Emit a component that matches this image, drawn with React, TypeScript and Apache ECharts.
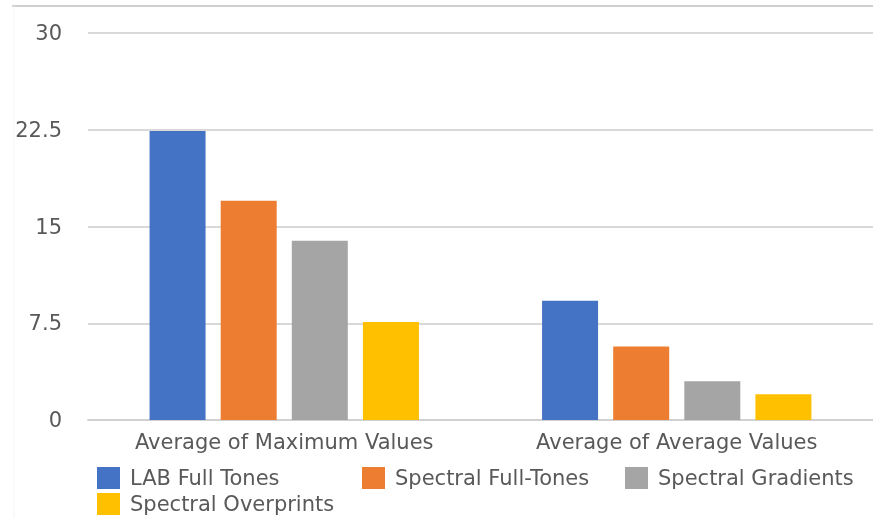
import React, { useEffect, useRef } from "react";
import * as echarts from "echarts";

const categories = ["Average of Maximum Values", "Average of Average Values"];
const seriesNames = ["LAB Full Tones", "Spectral Full-Tones", "Spectral Gradients", "Spectral Overprints"];
const labFullTones = [22.4, 9.25];
const spectralFullTones = [17.0, 5.7];
const spectralGradients = [13.9, 3.0];
const spectralOverprints = [7.6, 2.0];
const colors = ["#4472C4", "#ED7D31", "#A5A5A5", "#FFC000"];
const yTicks = { min: 0, max: 30, interval: 7.5 };

const FONT = "'DejaVu Sans', Verdana, sans-serif";
const TXT = "#595959";

export default function App() {
  const ref = useRef<HTMLDivElement>(null);
  useEffect(() => {
    if (!ref.current) return;
    const chart = echarts.init(ref.current, undefined, { renderer: "svg" });
    const values = [labFullTones, spectralFullTones, spectralGradients, spectralOverprints];
    const legendPos = [
      { left: 97, top: 467 },
      { left: 362, top: 467 },
      { left: 625, top: 467 },
      { left: 97, top: 493 },
    ];
    chart.setOption({
      animation: false,
      grid: { left: 88, right: 0, top: 33, bottom: 98, containLabel: false },
      xAxis: {
        type: "category",
        data: categories,
        axisTick: { show: false },
        axisLine: { lineStyle: { color: "#d0d0d0", width: 2 } },
        axisLabel: { color: TXT, fontFamily: FONT, fontSize: 21, margin: 11 },
      },
      yAxis: {
        type: "value",
        min: yTicks.min,
        max: yTicks.max,
        interval: yTicks.interval,
        axisLine: { show: false },
        axisTick: { show: false },
        splitLine: { lineStyle: { color: "#d9d9d9", width: 2 } },
        axisLabel: { color: TXT, fontFamily: FONT, fontSize: 21, margin: 26 },
      },
      legend: seriesNames.map((n, i) => ({
        data: [n],
        left: legendPos[i].left,
        top: legendPos[i].top,
        padding: 0,
        itemWidth: 23,
        itemHeight: 22,
        itemGap: 10,
        icon: "rect",
        textStyle: { color: TXT, fontFamily: FONT, fontSize: 21, padding: [0, 0, 0, 5] },
      })),
      series: seriesNames.map((n, i) => ({
        name: n,
        type: "bar",
        data: values[i],
        itemStyle: { color: colors[i] },
        barWidth: 56,
        barGap: "27%",
      })),
      graphic: [
        {
          type: "line",
          shape: { x1: 12, y1: 6, x2: 873, y2: 6 },
          style: { stroke: "#cfcfcf", lineWidth: 2 },
        },
        {
          type: "line",
          shape: { x1: 14, y1: 6, x2: 14, y2: 518 },
          style: { stroke: "#f4f4f4", lineWidth: 1 },
        },
      ],
    });
    return () => chart.dispose();
  }, []);
  return <div ref={ref} style={{ position: "fixed", left: 0, top: 0, width: 873, height: 518 }} />;
}
